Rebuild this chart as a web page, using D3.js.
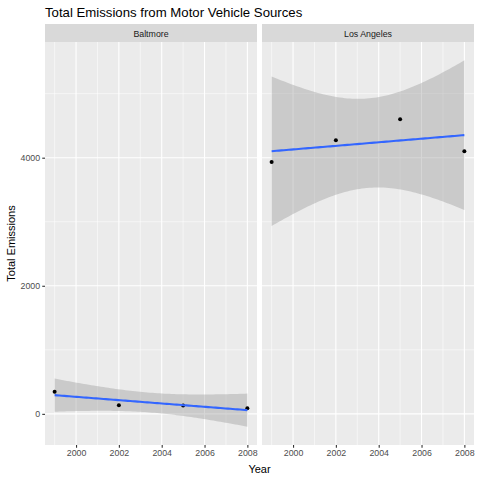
<!DOCTYPE html>
<html>
<head>
<meta charset="utf-8">
<script src="https://cdn.jsdelivr.net/npm/d3@7"></script>
<style>
  body { margin: 0; background: #fff; }
  svg { display: block; font-family: "Liberation Sans", Arial, sans-serif; }
</style>
</head>
<body>
<div id="chart"></div>
<script>
// data
const cities = ["Baltmore", "Los Angeles"];
const years = [1999, 2002, 2005, 2008];
const baltimoreEmissions = [346.82, 134.31, 130.43, 88.28];
const laEmissions = [3931.12, 4273.71, 4601.41, 4101.32];
const xTicks = [2000, 2002, 2004, 2006, 2008];
const yTicks = [0, 2000, 4000];

const seriesByCity = [baltimoreEmissions, laEmissions];

// lm fit + 95% band, like geom_smooth(method = "lm")
function fitLm(xs, ys) {
    const n = xs.length;
    const mx = d3.mean(xs), my = d3.mean(ys);
    let sxx = 0, sxy = 0;
    xs.forEach((x, i) => { sxx += (x - mx) ** 2; sxy += (x - mx) * (ys[i] - my); });
    const b = sxy / sxx, a = my - b * mx;
    let sse = 0;
    xs.forEach((x, i) => { sse += (ys[i] - (a + b * x)) ** 2; });
    const s = Math.sqrt(sse / (n - 2));
    const t = 4.302653; // qt(0.975, 2)
    const pts = d3.range(80).map(i => {
        const x = xs[0] + (xs[n - 1] - xs[0]) * i / 79;
        const fit = a + b * x;
        const se = s * Math.sqrt(1 / n + (x - mx) ** 2 / sxx);
        return { x: x, y: fit, lo: fit - t * se, hi: fit + t * se };
    });
    return pts;
}

const fits = seriesByCity.map(v => fitLm(years, v));

const width = 480, height = 480;
const svg = d3.select('#chart').append('svg')
    .attr('width', width)
    .attr('height', height);

const panelTop = 42, panelBottom = 445;
const panels = [[45, 257], [262, 474]];

// y domain from data incl. ribbon, 5% expand
const allLo = d3.min(fits.flat(), d => d.lo);
const allHi = d3.max(fits.flat(), d => d.hi);
const pad = (allHi - allLo) * 0.05;
const y = d3.scaleLinear().domain([allLo - pad, allHi + pad]).range([panelBottom, panelTop]);
const yMinor = [1000, 3000, 5000].filter(v => v > y.domain()[0] && v < y.domain()[1]);

// title
svg.append('text')
    .attr('x', 45).attr('y', 17)
    .attr('font-size', 13.2)
    .attr('fill', '#000')
    .text('Total Emissions from Motor Vehicle Sources');

cities.forEach((city, ci) => {
    const [x0, x1] = panels[ci];
    const x = d3.scaleLinear().domain([1998.55, 2008.45]).range([x0, x1]);
    const g = svg.append('g');

    // strip
    g.append('rect')
        .attr('x', x0).attr('y', 24)
        .attr('width', x1 - x0).attr('height', panelTop - 24)
        .attr('fill', '#D9D9D9');
    g.append('text')
        .attr('x', (x0 + x1) / 2).attr('y', 36.5)
        .attr('text-anchor', 'middle')
        .attr('font-size', 8.8)
        .attr('fill', '#1A1A1A')
        .text(city);

    // panel background
    g.append('rect')
        .attr('x', x0).attr('y', panelTop)
        .attr('width', x1 - x0).attr('height', panelBottom - panelTop)
        .attr('fill', '#EBEBEB');

    // minor grid
    const xMinor = [1999, 2001, 2003, 2005, 2007];
    g.selectAll('.xminor').data(xMinor).enter().append('line')
        .attr('x1', d => x(d)).attr('x2', d => x(d))
        .attr('y1', panelTop).attr('y2', panelBottom)
        .attr('stroke', '#fff').attr('stroke-width', 0.55);
    g.selectAll('.yminor').data(yMinor).enter().append('line')
        .attr('x1', x0).attr('x2', x1)
        .attr('y1', d => y(d)).attr('y2', d => y(d))
        .attr('stroke', '#fff').attr('stroke-width', 0.55);
    // major grid
    g.selectAll('.xmajor').data(xTicks).enter().append('line')
        .attr('x1', d => x(d)).attr('x2', d => x(d))
        .attr('y1', panelTop).attr('y2', panelBottom)
        .attr('stroke', '#fff').attr('stroke-width', 1.1);
    g.selectAll('.ymajor').data(yTicks).enter().append('line')
        .attr('x1', x0).attr('x2', x1)
        .attr('y1', d => y(d)).attr('y2', d => y(d))
        .attr('stroke', '#fff').attr('stroke-width', 1.1);

    // ribbon
    const fit = fits[ci];
    g.append('path')
        .datum(fit)
        .attr('d', d3.area().x(d => x(d.x)).y0(d => y(d.lo)).y1(d => y(d.hi)))
        .attr('fill', '#999999').attr('fill-opacity', 0.4);

    // points
    g.selectAll('.pt').data(years).enter().append('circle')
        .attr('cx', d => x(d))
        .attr('cy', (d, i) => y(seriesByCity[ci][i]))
        .attr('r', 2)
        .attr('fill', '#000');

    // fitted line
    g.append('path')
        .datum(fit)
        .attr('d', d3.line().x(d => x(d.x)).y(d => y(d.y)))
        .attr('fill', 'none')
        .attr('stroke', '#3366FF')
        .attr('stroke-width', 2.1);

    // x axis
    const xAxis = d3.axisBottom(x).tickValues(xTicks).tickFormat(d3.format('d')).tickSize(2.75).tickPadding(2.2);
    const ax = svg.append('g').attr('transform', `translate(0,${panelBottom})`).call(xAxis);
    ax.select('.domain').remove();
    ax.selectAll('line').attr('stroke', '#333333').attr('stroke-width', 1.1);
    ax.selectAll('text').attr('fill', '#4D4D4D').attr('font-size', 8.8)
        .attr('font-family', '"Liberation Sans", Arial, sans-serif');
});

// y axis
const yAxis = d3.axisLeft(y).tickValues(yTicks).tickFormat(d3.format('d')).tickSize(2.75).tickPadding(2.2);
const ay = svg.append('g').attr('transform', `translate(45,0)`).call(yAxis);
ay.select('.domain').remove();
ay.selectAll('line').attr('stroke', '#333333').attr('stroke-width', 1.1);
ay.selectAll('text').attr('fill', '#4D4D4D').attr('font-size', 8.8)
    .attr('font-family', '"Liberation Sans", Arial, sans-serif');

// axis titles
svg.append('text')
    .attr('x', (45 + 474) / 2).attr('y', 473)
    .attr('text-anchor', 'middle')
    .attr('font-size', 11)
    .text('Year');
svg.append('text')
    .attr('transform', `translate(15,${(panelTop + panelBottom) / 2}) rotate(-90)`)
    .attr('text-anchor', 'middle')
    .attr('font-size', 11)
    .text('Total Emissions');
</script>
</body>
</html>
